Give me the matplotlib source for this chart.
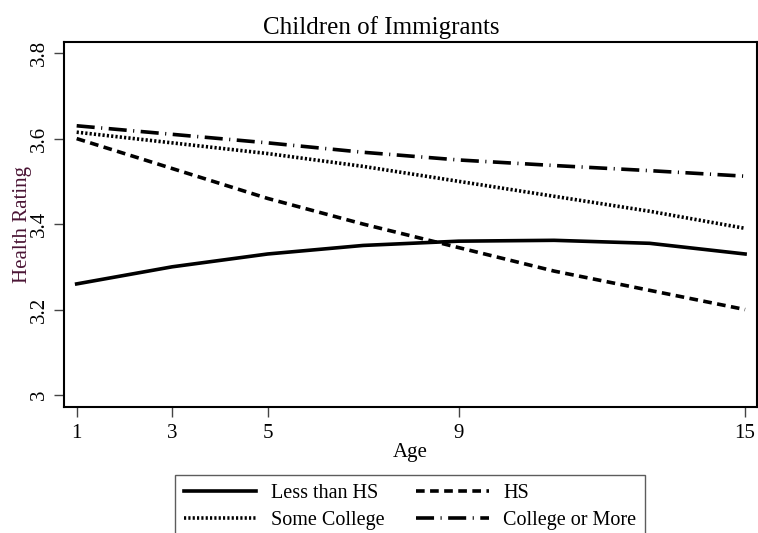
import matplotlib.pyplot as plt

ages = [1, 3, 5, 7, 9, 11, 13, 15]
less_than_hs = [3.26, 3.30, 3.33, 3.35, 3.36, 3.362, 3.355, 3.33]
hs = [3.60, 3.53, 3.46, 3.40, 3.345, 3.29, 3.245, 3.20]
some_college = [3.615, 3.59, 3.565, 3.535, 3.50, 3.465, 3.43, 3.39]
college_more = [3.63, 3.61, 3.59, 3.568, 3.55, 3.537, 3.525, 3.512]

x_ticks = [1, 3, 5, 9, 15]
y_ticks = [3, 3.2, 3.4, 3.6, 3.8]
y_tick_labels = ["3", "3.2", "3.4", "3.6", "3.8"]

plt.rcParams["font.family"] = ["Liberation Serif", "DejaVu Serif"]

fig = plt.figure(figsize=(7.58, 5.33), dpi=100)
ax = fig.add_axes([0.0844, 0.2364, 0.9143, 0.6848])

lw = 2.6
styles = {
    "Less than HS": (less_than_hs, "-"),
    "HS": (hs, (0, (2.4, 1.5))),
    "Some College": (some_college, (0, (0.6, 0.6))),
    "College or More": (college_more, (0, (5, 1.8, 0.3, 1.8))),
}
handles = {}
for label, (vals, ls) in styles.items():
    (h,) = ax.plot(ages, vals, color="black", linewidth=lw, linestyle=ls, label=label)
    handles[label] = h

ax.set_xlim(0.734, 15.25)
ax.set_ylim(2.972, 3.826)
ax.set_xticks(x_ticks)
ax.set_yticks(y_ticks)
ax.set_yticklabels(y_tick_labels, rotation=90, va="center")
ax.tick_params(axis="both", labelsize=15, length=7, width=1, direction="out", color="#444444")
ax.tick_params(axis="x", pad=5)
for s in ax.spines.values():
    s.set_linewidth(1.5)

ax.set_xlabel("Age", fontsize=15, labelpad=0)
ax.set_ylabel("Health Rating", fontsize=15, color="#4b1535", labelpad=-1)
ax.set_title("Children of Immigrants", fontsize=18, pad=6, x=0.458)

# Stata fills the legend row by row, matplotlib column by column
order = ["Less than HS", "Some College", "HS", "College or More"]
leg = fig.legend(
    [handles[k] for k in order], order,
    ncol=2, loc="upper center", bbox_to_anchor=(0.541, 1 - 475 / 533),
    fontsize=14.5, frameon=True, fancybox=False, edgecolor="#333333",
    handlelength=3.6, columnspacing=1.6, handletextpad=0.7,
    borderpad=0.45, labelspacing=0.4, borderaxespad=0,
)
leg.get_frame().set_linewidth(1.0)

fig.savefig("out.png", dpi=100)
